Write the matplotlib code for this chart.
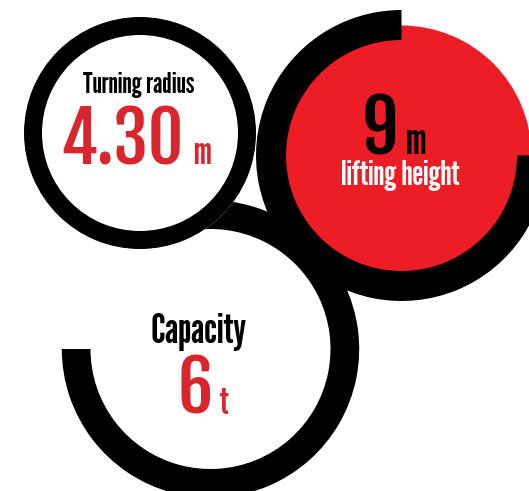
import matplotlib
matplotlib.use("Agg")
import matplotlib.pyplot as plt
from matplotlib.patches import Circle, Wedge

# ---- data ----
labels = ["Turning radius", "lifting height", "Capacity"]
values = ["4.30", "9", "6"]
units = ["m", "m", "t"]

W, H = 529, 491
BLACK = "#000000"
RED_FILL = "#ec1d25"
RED_TEXT = "#d9252e"
FONT = ["League Gothic", "DejaVu Sans"]
FONT_NUM = ["Fjalla One", "League Gothic", "DejaVu Sans"]

fig = plt.figure(figsize=(W / 100, H / 100), dpi=100)
ax = fig.add_axes([0, 0, 1, 1])
ax.set_xlim(0, W)
ax.set_ylim(0, H)
ax.set_aspect("equal")
ax.axis("off")


def Y(y_img):
    return H - y_img


# bottom circle (Capacity): open black arc
c3 = (210.5, Y(349))
ax.add_patch(Wedge(c3, 148.7, 180, 480, width=28.7, facecolor=BLACK, edgecolor="none", zorder=1))

# right circle (lifting height): red disc with black 3/4 arc
c2 = (401.5, Y(155.5))
ax.add_patch(Circle(c2, 130, facecolor=RED_FILL, edgecolor="none", zorder=2))
ax.add_patch(Wedge(c2, 145.5, 90, 360, width=30, facecolor=BLACK, edgecolor="none", zorder=3))

# top-left circle (Turning radius): full black ring, white inside
c1 = (140, Y(133))
ax.add_patch(Circle(c1, 116, facecolor="white", edgecolor="none", zorder=4))
ax.add_patch(Wedge(c1, 116, 0, 360, width=18, facecolor=BLACK, edgecolor="none", zorder=5))

# ---- texts ----
kw = dict(family=FONT, zorder=10)
kn = dict(family=FONT_NUM, zorder=10)

# Turning radius
ax.text(138.5, Y(93), labels[0], ha="center", va="baseline", fontsize=21, color=BLACK, **kw)
ax.text(184, Y(164), values[0], ha="right", va="baseline", fontsize=50, color=RED_TEXT, **kn)
ax.text(193, Y(164), units[0], ha="left", va="baseline", fontsize=27, color=RED_TEXT, **kw)

# lifting height
ax.text(398, Y(154), values[1], ha="right", va="baseline", fontsize=52, color=BLACK, **kn)
ax.text(406, Y(154), units[1], ha="left", va="baseline", fontsize=31, color=BLACK, **kw)
ax.text(400.5, Y(185), labels[1], ha="center", va="baseline", fontsize=25, color="white", **kw)

# Capacity
ax.text(199, Y(343), labels[2], ha="center", va="baseline", fontsize=30, color=BLACK, **kw)
ax.text(213, Y(414), values[2], ha="right", va="baseline", fontsize=50, color=RED_TEXT, **kn)
ax.text(220, Y(414), units[2], ha="left", va="baseline", fontsize=27, color=RED_TEXT, **kw)

fig.savefig("out.png", dpi=100, facecolor="white")
